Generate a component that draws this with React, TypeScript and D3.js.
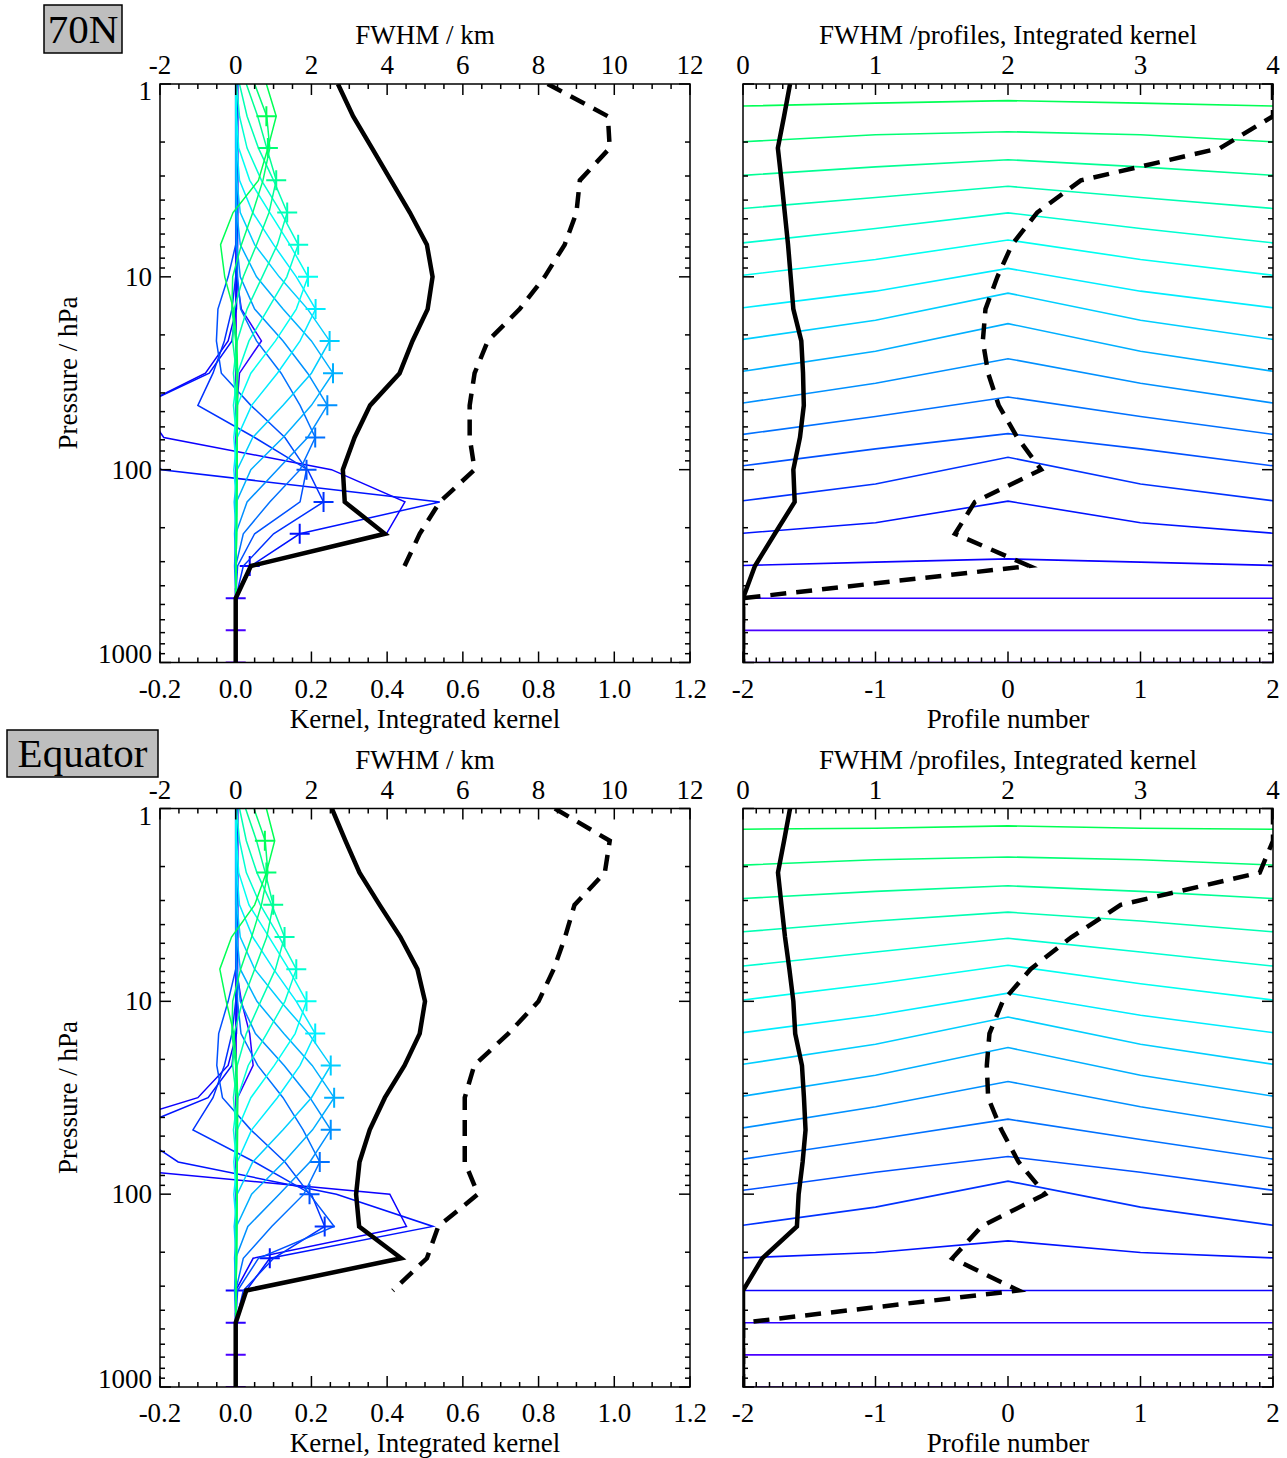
import React from "react";
import * as d3 from "d3";

const FONT = "'Liberation Serif', 'Times New Roman', Times, serif";

// ---------- shared axes data ----------
const pressureLevels = [1, 1.47, 2.15, 3.16, 4.64, 6.81, 10, 14.7, 21.5, 31.6, 46.4, 68.1, 100, 147, 215, 316, 464, 681, 1000];
const profileNumbers = [-2, -1, 0, 1, 2];
const kernelTickValues = [-0.2, 0, 0.2, 0.4, 0.6, 0.8, 1.0, 1.2];
const fwhmKmTickValues = [-2, 0, 2, 4, 6, 8, 10, 12];
const profileTickValues = [-2, -1, 0, 1, 2];
const fwhmProfTickValues = [0, 1, 2, 3, 4];
const pressureTickValues = [1, 10, 100, 1000];

// ---------- 70N ----------
const kernels70N = [
  [0.081, 0.107, 0.085, 0.06, -0.007, -0.04, -0.029, -0.006, 0.003, 0.005, 0.005, 0.004, 0.004, 0.003, 0.002, 0.001, 0, 0, 0],
  [0.05, 0.082, 0.09, 0.072, 0.045, 0.015, -0.008, -0.01, 0.0, 0.004, 0.004, 0.003, 0.003, 0.002, 0.002, 0.001, 0, 0, 0],
  [0.028, 0.058, 0.082, 0.107, 0.088, 0.055, 0.02, -0.004, -0.008, 0.002, 0.003, 0.003, 0.003, 0.002, 0.002, 0.001, 0, 0, 0],
  [0.01, 0.03, 0.06, 0.1, 0.136, 0.11, 0.07, 0.03, 0.004, -0.006, 0.001, 0.003, 0.003, 0.002, 0.002, 0.001, 0, 0, 0],
  [0.002, 0.01, 0.03, 0.068, 0.12, 0.165, 0.135, 0.085, 0.035, 0.005, -0.006, 0.002, 0.002, 0.002, 0.002, 0.001, 0, 0, 0],
  [0, 0.002, 0.008, 0.037, 0.09, 0.143, 0.191, 0.16, 0.105, 0.04, 0.004, -0.005, 0.002, 0.002, 0.001, 0.001, 0, 0, 0],
  [0, 0, 0.003, 0.01, 0.045, 0.1, 0.16, 0.211, 0.17, 0.11, 0.042, 0.004, -0.005, 0.002, 0.001, 0.001, 0, 0, 0],
  [0, 0, 0, 0.003, 0.012, 0.05, 0.115, 0.19, 0.248, 0.2, 0.125, 0.045, 0.004, -0.004, 0.001, 0.001, 0, 0, 0],
  [0, 0, 0, 0, 0.003, 0.012, 0.055, 0.125, 0.2, 0.257, 0.2, 0.125, 0.04, 0.002, -0.003, 0, 0, 0, 0],
  [0, 0, 0, 0, 0, 0.003, 0.012, 0.05, 0.125, 0.19, 0.242, 0.19, 0.11, 0.03, 0, -0.003, 0, 0, 0],
  [0, 0, 0, 0, 0, 0.002, 0.005, 0.013, 0.055, 0.12, 0.17, 0.21, 0.17, 0.09, 0.02, 0, 0, 0, 0],
  [0.003, 0.003, 0.003, 0.003, 0.003, 0, -0.02, -0.047, -0.051, -0.038, 0.04, 0.13, 0.187, 0.17, 0.05, 0.005, 0, 0, 0],
  [0.004, 0.004, 0.004, 0.004, 0.004, 0.003, 0, -0.01, -0.03, -0.06, -0.1, 0.05, 0.19, 0.232, 0.1, 0.02, 0, 0, 0],
  [0.005, 0.005, 0.005, 0.005, 0.005, 0.004, 0.003, 0, -0.01, -0.07, -0.25, -0.3, -0.196, 0.539, 0.169, 0.04, 0, 0, 0],
  [0.005, 0.005, 0.005, 0.005, 0.005, 0.005, 0.004, 0.002, -0.02, -0.08, -0.25, -0.19, 0.253, 0.447, 0.398, 0.037, 0, 0, 0],
  [0.002, 0.002, 0.002, 0.002, 0.002, 0.002, 0.002, 0.015, 0.068, 0.01, 0.003, 0.002, 0.002, 0.002, 0.001, 0.001, 0, 0, 0],
  [0.001, 0.001, 0.001, 0.001, 0.001, 0.001, 0.001, 0.001, 0.001, 0.001, 0.001, 0.001, 0.001, 0.001, 0.001, 0, 0, 0, 0],
  [0, 0, 0, 0, 0, 0, 0, 0, 0, 0, 0, 0, 0, 0, 0, 0, 0, 0, 0],
];
const diag70N = [0.081, 0.085, 0.107, 0.136, 0.165, 0.191, 0.211, 0.248, 0.257, 0.242, 0.21, 0.187, 0.232, 0.169, 0.037, 0, 0, 0];
const intKernel70N = [0.27, 0.31, 0.36, 0.41, 0.46, 0.505, 0.52, 0.507, 0.467, 0.433, 0.355, 0.314, 0.283, 0.288, 0.394, 0.04, 0, 0, 0];
const fwhmKm70N = [8.24, 9.83, 9.88, 9.09, 9.0, 8.69, 8.16, 7.5, 6.66, 6.31, 6.18, 6.18, 6.31, 5.39, 4.86, 4.46];
const intKernelH70N = [0.355, 0.31, 0.263, 0.29, 0.315, 0.34, 0.36, 0.38, 0.44, 0.453, 0.459, 0.43, 0.38, 0.39, 0.24, 0.09, 0, 0, 0];
const fwhmProf70N = [4.0, 4.0, 3.6, 2.55, 2.22, 2.03, 1.92, 1.83, 1.81, 1.85, 1.93, 2.07, 2.25, 1.75, 1.6, 2.16, 0, 0, 0];
const hSide1_70N = [0.068, 0.069, 0.07, 0.078, 0.084, 0.09, 0.093, 0.107, 0.114, 0.115, 0.109, 0.108, 0.093, 0.057, 0.02, 0, 0, 0];
const hSide2_70N = [0.053, 0.033, 0.026, 0.021, 0.009, 0.008, 0.007, 0.008, 0.01, 0.012, 0.016, 0.02, 0.006, 0.003, 0.003, 0, 0, 0];

// ---------- Equator ----------
const kernelsEq = [
  [0.081, 0.103, 0.081, 0.05, -0.011, -0.042, -0.025, -0.005, 0.003, 0.005, 0.005, 0.004, 0.004, 0.003, 0.002, 0.001, 0, 0, 0],
  [0.048, 0.078, 0.085, 0.068, 0.042, 0.013, -0.008, -0.01, 0, 0.004, 0.004, 0.003, 0.003, 0.002, 0.002, 0.001, 0, 0, 0],
  [0.026, 0.055, 0.078, 0.099, 0.082, 0.05, 0.018, -0.004, -0.008, 0.002, 0.003, 0.003, 0.003, 0.002, 0.002, 0.001, 0, 0, 0],
  [0.01, 0.028, 0.056, 0.095, 0.129, 0.105, 0.066, 0.028, 0.004, -0.006, 0.001, 0.003, 0.003, 0.002, 0.002, 0.001, 0, 0, 0],
  [0.002, 0.01, 0.028, 0.065, 0.115, 0.16, 0.13, 0.082, 0.033, 0.005, -0.006, 0.002, 0.002, 0.002, 0.002, 0.001, 0, 0, 0],
  [0, 0.002, 0.008, 0.035, 0.088, 0.14, 0.187, 0.157, 0.102, 0.04, 0.004, -0.005, 0.002, 0.002, 0.001, 0.001, 0, 0, 0],
  [0, 0, 0.003, 0.01, 0.045, 0.1, 0.16, 0.21, 0.17, 0.11, 0.042, 0.004, -0.005, 0.002, 0.001, 0.001, 0, 0, 0],
  [0, 0, 0, 0.003, 0.012, 0.05, 0.118, 0.193, 0.251, 0.2, 0.125, 0.045, 0.004, -0.004, 0.001, 0.001, 0, 0, 0],
  [0, 0, 0, 0, 0.003, 0.012, 0.056, 0.127, 0.202, 0.26, 0.203, 0.127, 0.042, 0.002, -0.003, 0, 0, 0, 0],
  [0, 0, 0, 0, 0, 0.003, 0.012, 0.052, 0.128, 0.196, 0.251, 0.196, 0.115, 0.032, 0, -0.003, 0, 0, 0],
  [0, 0, 0, 0, 0, 0.002, 0.005, 0.014, 0.058, 0.125, 0.178, 0.222, 0.18, 0.095, 0.02, 0, 0, 0, 0],
  [0.003, 0.003, 0.003, 0.003, 0.003, 0, -0.02, -0.045, -0.05, -0.035, 0.04, 0.13, 0.195, 0.26, 0.06, 0.005, 0, 0, 0],
  [0.004, 0.004, 0.004, 0.004, 0.004, 0.003, 0, -0.01, -0.03, -0.06, -0.113, 0.05, 0.2, 0.235, 0.1, 0.02, 0, 0, 0],
  [0.005, 0.005, 0.005, 0.005, 0.005, 0.004, 0.003, 0, -0.01, -0.073, -0.28, -0.152, 0.266, 0.521, 0.09, 0.028, 0, 0, 0],
  [0.005, 0.005, 0.005, 0.005, 0.005, 0.005, 0.004, 0.002, -0.02, -0.1, -0.38, -0.5, 0.407, 0.451, 0.046, 0, 0, 0, 0],
  [0.002, 0.002, 0.002, 0.002, 0.002, 0.002, 0.015, 0.037, 0.046, 0.005, 0.003, 0.002, 0.002, 0.002, 0.001, 0.001, 0, 0, 0],
  [0.001, 0.001, 0.001, 0.001, 0.001, 0.001, 0.001, 0.001, 0.001, 0.001, 0.001, 0.001, 0.001, 0.001, 0.001, 0, 0, 0, 0],
  [0, 0, 0, 0, 0, 0, 0, 0, 0, 0, 0, 0, 0, 0, 0, 0, 0, 0, 0],
];
const diagEq = [0.077, 0.081, 0.099, 0.129, 0.16, 0.187, 0.21, 0.251, 0.26, 0.251, 0.222, 0.195, 0.235, 0.09, 0, 0, 0, 0];
const intKernelEq = [0.254, 0.29, 0.327, 0.38, 0.435, 0.48, 0.5, 0.486, 0.446, 0.394, 0.354, 0.327, 0.318, 0.326, 0.437, 0.028, 0, 0, 0];
const fwhmKmEq = [8.43, 9.88, 9.75, 8.95, 8.7, 8.4, 8.0, 7.2, 6.3, 6.05, 6.05, 6.05, 6.4, 5.35, 5.05, 4.15];
const intKernelHEq = [0.355, 0.31, 0.264, 0.29, 0.317, 0.35, 0.38, 0.394, 0.445, 0.46, 0.472, 0.45, 0.42, 0.407, 0.146, 0, 0, 0, 0];
const fwhmProfEq = [4.0, 4.0, 3.9, 2.85, 2.48, 2.17, 1.96, 1.86, 1.84, 1.85, 1.95, 2.08, 2.28, 1.8, 1.58, 2.08, 0, 0, 0];
const hSide1_Eq = [0.065, 0.067, 0.07, 0.083, 0.089, 0.091, 0.095, 0.11, 0.116, 0.12, 0.117, 0.114, 0.1, 0.03, 0, 0, 0, 0];
const hSide2_Eq = [0.06, 0.039, 0.033, 0.027, 0.016, 0.007, 0.005, 0.006, 0.008, 0.01, 0.015, 0.02, 0.006, 0.002, 0, 0, 0, 0];

// ---------- layout ----------
const PH = 578.5;
const LX0 = 160, LX1 = 690, RX0 = 743, RX1 = 1273;
const FS = 27;

function levelColor(i: number) {
  return d3.hsl(140 + ((i - 1) * 125) / 17, 1, 0.5).formatHex();
}

function fmtKernel(v: number) {
  return v.toFixed(1);
}

function logTickList() {
  const out: { v: number; major: boolean }[] = [];
  [1, 10, 100].forEach((dec) => {
    for (let m = 1; m <= 9; m++) out.push({ v: m * dec, major: m === 1 });
  });
  out.push({ v: 1000, major: true });
  return out;
}

function linTickList(lo: number, hi: number, step: number, every: number) {
  const out: { v: number; major: boolean }[] = [];
  const n = Math.round((hi - lo) / step);
  for (let k = 0; k <= n; k++) out.push({ v: lo + k * step, major: k % every === 0 });
  return out;
}

function Frame({ x0, x1, top, xb, xbTicks, xt, xtTicks, y }: any) {
  const bottom = top + PH;
  const els: any[] = [];
  xbTicks.forEach((t: any, k: number) => {
    const px = xb(t.v);
    const len = t.major ? 11 : 5;
    els.push(<line key={"b" + k} x1={px} x2={px} y1={bottom} y2={bottom - len} />);
  });
  xtTicks.forEach((t: any, k: number) => {
    const px = xt(t.v);
    const len = t.major ? 11 : 5;
    els.push(<line key={"t" + k} x1={px} x2={px} y1={top} y2={top + len} />);
  });
  logTickList().forEach((t, k) => {
    const py = y(t.v);
    const len = t.major ? 11 : 5;
    els.push(<line key={"l" + k} x1={x0} x2={x0 + len} y1={py} y2={py} />);
    els.push(<line key={"r" + k} x1={x1} x2={x1 - len} y1={py} y2={py} />);
  });
  return (
    <g stroke="#000" strokeWidth={1.5} fill="none">
      {els}
      <rect x={x0} y={top} width={x1 - x0} height={PH} />
    </g>
  );
}

function LeftPanel({ id, top, kernels, diag, intK, fwhm }: any) {
  const bottom = top + PH;
  const x = d3.scaleLinear().domain([-0.2, 1.2]).range([LX0, LX1]);
  const xt = d3.scaleLinear().domain([-2, 12]).range([LX0, LX1]);
  const y = d3.scaleLog().domain([1, 1000]).range([top, bottom]);
  const kLine = d3.line<number>().x((d) => x(d)).y((_, j) => y(pressureLevels[j]));
  const fLine = d3.line<number>().x((d) => xt(d)).y((_, j) => y(pressureLevels[j]));
  const order = d3.range(kernels.length).reverse();
  return (
    <g>
      <defs>
        <clipPath id={id}>
          <rect x={LX0} y={top} width={LX1 - LX0} height={PH} />
        </clipPath>
      </defs>
      <g clipPath={`url(#${id})`}>
        {order.map((i) => {
          const c = levelColor(i + 1);
          const cx = x(diag[i]);
          const cy = y(pressureLevels[i + 1]);
          return (
            <g key={i}>
              <path d={kLine(kernels[i]) as string} fill="none" stroke={c} strokeWidth={1.5} />
              <path d={`M${cx - 10},${cy}H${cx + 10}M${cx},${cy - 10}V${cy + 10}`} stroke={c} strokeWidth={2} />
            </g>
          );
        })}
        <path d={kLine(intK) as string} fill="none" stroke="#000" strokeWidth={4.5} strokeLinejoin="miter" />
        <path d={fLine(fwhm) as string} fill="none" stroke="#000" strokeWidth={4.5} strokeDasharray="16,10" />
      </g>
      <Frame x0={LX0} x1={LX1} top={top} xb={x} xbTicks={linTickList(-0.2, 1.2, 0.05, 4)} xt={xt} xtTicks={linTickList(-2, 12, 0.5, 4)} y={y} />
      <g fontFamily={FONT} fontSize={FS} fill="#000">
        {kernelTickValues.map((v) => (
          <text key={"kb" + v} x={x(v)} y={bottom + 35} textAnchor="middle">{fmtKernel(v)}</text>
        ))}
        {fwhmKmTickValues.map((v) => (
          <text key={"kt" + v} x={xt(v)} y={top - 10} textAnchor="middle">{v}</text>
        ))}
        {pressureTickValues.map((v) => (
          <text key={"p" + v} x={152} y={Math.min(Math.max(y(v) + 9, top + 16), bottom + 0.5)} textAnchor="end">{v}</text>
        ))}
        <text x={(LX0 + LX1) / 2} y={bottom + 65} textAnchor="middle">Kernel, Integrated kernel</text>
        <text x={(LX0 + LX1) / 2} y={top - 40} textAnchor="middle">FWHM / km</text>
        <text transform={`translate(77,${top + 289}) rotate(-90)`} textAnchor="middle">Pressure / hPa</text>
      </g>
    </g>
  );
}

function RightPanel({ id, top, diag, side1, side2, intK, fwhm }: any) {
  const bottom = top + PH;
  const x = d3.scaleLinear().domain([-2, 2]).range([RX0, RX1]);
  const xt = d3.scaleLinear().domain([0, 4]).range([RX0, RX1]);
  const y = d3.scaleLog().domain([1, 1000]).range([top, bottom]);
  const bLine = d3.line<number>().x((d) => xt(d)).y((_, j) => y(pressureLevels[j]));
  const order = d3.range(diag.length).reverse();
  return (
    <g>
      <defs>
        <clipPath id={id}>
          <rect x={RX0} y={top} width={RX1 - RX0} height={PH} />
        </clipPath>
      </defs>
      <g clipPath={`url(#${id})`}>
        {order.map((i) => {
          const vals = [side2[i], side1[i], diag[i], side1[i], side2[i]];
          const pts: [number, number][] = profileNumbers.map((pn, k) => [x(pn), y(pressureLevels[i + 1] / Math.pow(10, vals[k]))]);
          return <path key={i} d={d3.line()(pts) as string} fill="none" stroke={levelColor(i + 1)} strokeWidth={1.6} />;
        })}
        <path d={bLine(intK) as string} fill="none" stroke="#000" strokeWidth={4.5} />
        <path d={bLine(fwhm) as string} fill="none" stroke="#000" strokeWidth={4.5} strokeDasharray="16,10" />
      </g>
      <Frame x0={RX0} x1={RX1} top={top} xb={x} xbTicks={linTickList(-2, 2, 0.1, 10)} xt={xt} xtTicks={linTickList(0, 4, 0.1, 10)} y={y} />
      <g fontFamily={FONT} fontSize={FS} fill="#000">
        {profileTickValues.map((v) => (
          <text key={"pb" + v} x={x(v)} y={bottom + 35} textAnchor="middle">{v}</text>
        ))}
        {fwhmProfTickValues.map((v) => (
          <text key={"pt" + v} x={xt(v)} y={top - 10} textAnchor="middle">{v}</text>
        ))}
        <text x={(RX0 + RX1) / 2} y={bottom + 65} textAnchor="middle">Profile number</text>
        <text x={(RX0 + RX1) / 2} y={top - 40} textAnchor="middle">FWHM /profiles, Integrated kernel</text>
      </g>
    </g>
  );
}

function TagBox({ x, y, w, h, text }: any) {
  return (
    <g>
      <rect x={x} y={y} width={w} height={h} fill="#bebebe" stroke="#000" strokeWidth={1.5} />
      <text x={x + w / 2} y={y + h - 10} textAnchor="middle" fontFamily={FONT} fontSize={41} fill="#000">{text}</text>
    </g>
  );
}

export default function App() {
  const topA = 84;
  const topB = 808.5;
  return (
    <svg width={1287} height={1458} style={{ display: "block", position: "absolute", left: 0, top: 0, background: "#fff" }}>
      <rect x={0} y={0} width={1287} height={1458} fill="#fff" />
      <LeftPanel id="cl1" top={topA} kernels={kernels70N} diag={diag70N} intK={intKernel70N} fwhm={fwhmKm70N} />
      <RightPanel id="cr1" top={topA} diag={diag70N} side1={hSide1_70N} side2={hSide2_70N} intK={intKernelH70N} fwhm={fwhmProf70N} />
      <LeftPanel id="cl2" top={topB} kernels={kernelsEq} diag={diagEq} intK={intKernelEq} fwhm={fwhmKmEq} />
      <RightPanel id="cr2" top={topB} diag={diagEq} side1={hSide1_Eq} side2={hSide2_Eq} intK={intKernelHEq} fwhm={fwhmProfEq} />
      <TagBox x={44} y={5} w={78} h={48} text="70N" />
      <TagBox x={7} y={730} w={151} h={47} text="Equator" />
    </svg>
  );
}
